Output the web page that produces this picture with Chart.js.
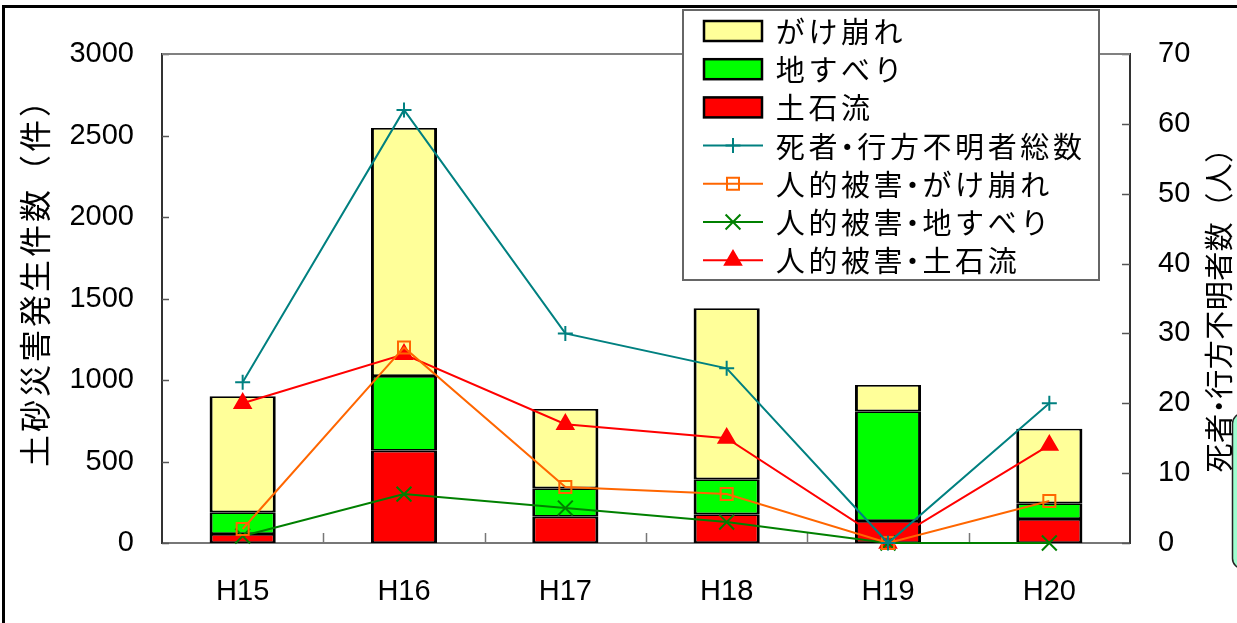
<!DOCTYPE html>
<html>
<head>
<meta charset="utf-8">
<script src="https://cdn.jsdelivr.net/npm/chart.js@4/dist/chart.umd.min.js"></script>
<style>
  html, body { margin: 0; padding: 0; background: #fff; }
  #wrap { width: 1237px; height: 623px; position: relative; }
</style>
</head>
<body>
<div id="wrap"><canvas id="c" width="1237" height="623"></canvas></div>
<script>
// 年度
const years = ['H15', 'H16', 'H17', 'H18', 'H19', 'H20'];

// 土砂災害発生件数（件）
const debrisFlowCount   = [55, 566, 161, 176, 135, 147];      // 土石流
const landslideCount    = [133, 458, 175, 215, 673, 97];      // 地すべり
const slopeFailureCount = [712, 1522, 486, 1049, 161, 457];   // がけ崩れ

// 死者・行方不明者数（人）
const victimsTotal     = [23, 62, 30, 25, 0, 20];
const victimsSlope     = [2, 28, 8, 7, 0, 6];
const victimsLandslide = [1, 7, 5, 3, 0, 0];
const victimsDebris    = [20, 27, 17, 15, 0, 14];

// 軸の目盛
const countAxis  = { min: 0, max: 3000, step: 500 };
const personAxis = { min: 0, max: 70, step: 10 };

// 文字列
const leftTitle  = '土砂災害発生件数（件）';
const rightTitle = '死者・行方不明者数（人）';

const JP = "'Noto Sans CJK JP', 'Noto Sans', sans-serif";
const NUM = "'Liberation Sans', Arial, sans-serif";

// 凡例の並び順（データセットの添字）
const legendOrder = [2, 1, 0, 3, 4, 5, 6];

function barSet(label, data, color) {
  return {
    type: 'bar', label, data, yAxisID: 'y', stack: 'count',
    backgroundColor: color, borderColor: '#000',
    borderWidth: { top: 1.75, bottom: 1.75, left: 3, right: 3 },
    borderSkipped: false, barPercentage: 0.41, categoryPercentage: 1, order: 2
  };
}
function lineSet(label, data, color, style, radius, fillPoint) {
  return {
    type: 'line', label, data, yAxisID: 'y1',
    borderColor: color, borderWidth: 2, tension: 0, fill: false, clip: false,
    pointStyle: style, pointRadius: radius, pointHoverRadius: radius,
    pointBorderColor: color, pointBorderWidth: 2,
    pointBackgroundColor: fillPoint ? color : 'rgba(0,0,0,0)', order: 1
  };
}

const datasets = [
  barSet('土石流', debrisFlowCount, '#ff0000'),
  barSet('地すべり', landslideCount, '#00ff00'),
  barSet('がけ崩れ', slopeFailureCount, '#ffff99'),
  lineSet('死者・行方不明者総数', victimsTotal, '#008080', 'cross', 7.5, false),
  lineSet('人的被害・がけ崩れ', victimsSlope, '#ff6600', 'rect', 8.5, false),
  lineSet('人的被害・地すべり', victimsLandslide, '#008000', 'crossRot', 10.5, false),
  lineSet('人的被害・土石流', victimsDebris, '#ff0000', 'triangle', 9.3, true)
];

function drawMarker(ctx, ds, x, y) {
  ctx.save();
  ctx.strokeStyle = ds.pointBorderColor;
  ctx.fillStyle = ds.pointBackgroundColor;
  ctx.lineWidth = ds.pointBorderWidth;
  Chart.helpers.drawPoint(ctx, {
    pointStyle: ds.pointStyle, radius: ds.pointRadius,
    borderWidth: ds.pointBorderWidth, rotation: 0
  }, x, y);
  ctx.restore();
}

// 等幅送りで1文字ずつ描く（中黒は半角幅）
function cellWidth(ch, adv) { return ch === '・' ? adv * 0.5 : adv; }
function textRunWidth(text, adv) {
  let w = 0;
  for (const ch of text) w += cellWidth(ch, adv);
  return w;
}
function fillCells(ctx, text, x, y, adv) {
  ctx.textAlign = 'center';
  let cx = x;
  for (const ch of text) {
    const w = cellWidth(ch, adv);
    ctx.fillText(ch, cx + w / 2, y);
    cx += w;
  }
}

// 枠・内向き目盛・凡例・軸タイトル
const decorations = {
  id: 'decorations',
  beforeDatasetsDraw(chart) {
    const { ctx, chartArea: a, scales } = chart;
    ctx.save();
    // 内向きの目盛線
    ctx.strokeStyle = '#555';
    ctx.lineWidth = 1.5;
    scales.y.ticks.forEach(t => {
      const p = Math.round(scales.y.getPixelForValue(t.value)) + 0.5;
      ctx.beginPath(); ctx.moveTo(a.left, p); ctx.lineTo(a.left + 7, p); ctx.stroke();
    });
    scales.y1.ticks.forEach(t => {
      const p = Math.round(scales.y1.getPixelForValue(t.value)) + 0.5;
      ctx.beginPath(); ctx.moveTo(a.right, p); ctx.lineTo(a.right - 8, p); ctx.stroke();
    });
    ctx.strokeStyle = '#777';
    for (let i = 1; i < years.length; i++) {
      const p = Math.round((scales.x.getPixelForValue(i - 1) + scales.x.getPixelForValue(i)) / 2) + 0.5;
      ctx.beginPath(); ctx.moveTo(p, a.bottom); ctx.lineTo(p, a.bottom - 10); ctx.stroke();
    }
    // プロット領域の上辺
    ctx.strokeStyle = '#808080';
    ctx.lineWidth = 2;
    ctx.beginPath(); ctx.moveTo(a.left, a.top); ctx.lineTo(a.right, a.top); ctx.stroke();
    ctx.restore();
  },
  afterDraw(chart) {
    const { ctx } = chart;
    ctx.save();

    // 外枠
    ctx.fillStyle = '#000';
    ctx.fillRect(2, 5, 1237, 3);
    ctx.fillRect(2, 5, 3, 623);

    // 右端の吹き出し枠
    ctx.fillStyle = '#9fffd0';
    ctx.strokeStyle = '#222';
    ctx.lineWidth = 1.5;
    ctx.beginPath();
    ctx.roundRect(1232.5, 413.5, 40, 155, 10);
    ctx.fill(); ctx.stroke();

    // 凡例
    const lx = 683, ly = 10, lw = 416, lh = 270;
    ctx.fillStyle = '#fff';
    ctx.fillRect(lx, ly, lw, lh);
    ctx.strokeStyle = '#666';
    ctx.lineWidth = 2;
    ctx.strokeRect(lx, ly, lw, lh);

    ctx.font = '29px ' + JP;
    ctx.textBaseline = 'middle';
    legendOrder.forEach((di, row) => {
      const ds = chart.data.datasets[di];
      const cy = 31 + row * 38.2;
      if (ds.type === 'bar') {
        ctx.fillStyle = ds.backgroundColor;
        ctx.fillRect(704, cy - 10, 58, 20);
        ctx.strokeStyle = '#000';
        ctx.lineWidth = 2.5;
        ctx.strokeRect(704, cy - 10, 58, 20);
      } else {
        ctx.strokeStyle = ds.borderColor;
        ctx.lineWidth = 2;
        ctx.beginPath(); ctx.moveTo(703, cy); ctx.lineTo(763, cy); ctx.stroke();
        drawMarker(ctx, ds, 733, cy);
      }
      ctx.fillStyle = '#000';
      fillCells(ctx, ds.label, 774, cy + 1, 32.6);
    });

    // 軸タイトル
    ctx.fillStyle = '#000';
    ctx.textBaseline = 'middle';
    ctx.save();
    ctx.translate(35, 276);
    ctx.rotate(-Math.PI / 2);
    ctx.font = '32px ' + JP;
    fillCells(ctx, leftTitle, -textRunWidth(leftTitle, 35) / 2, 0, 35);
    ctx.restore();

    ctx.save();
    ctx.translate(1219, 303);
    ctx.rotate(-Math.PI / 2);
    ctx.font = '29px ' + JP;
    fillCells(ctx, rightTitle, -textRunWidth(rightTitle, 29.5) / 2, 0, 29.5);
    ctx.restore();

    ctx.restore();
  }
};

new Chart(document.getElementById('c'), {
  data: { labels: years, datasets },
  options: {
    responsive: false,
    animation: false,
    events: [],
    layout: { padding: { top: 54, left: 0, right: 0, bottom: 0 } },
    plugins: { legend: { display: false }, tooltip: { enabled: false }, title: { display: false } },
    scales: {
      x: {
        stacked: true,
        grid: { display: false, drawTicks: false },
        border: { color: '#777', width: 2 },
        ticks: { color: '#000', font: { family: NUM, size: 29 }, padding: 32, maxRotation: 0, autoSkip: false },
        afterFit: s => { s.height = 80; }
      },
      y: {
        position: 'left', stacked: true,
        min: countAxis.min, max: countAxis.max,
        grid: { display: false, drawTicks: false },
        border: { color: '#333', width: 2 },
        ticks: {
          stepSize: countAxis.step, color: '#000', font: { family: NUM, size: 29 }, padding: 28,
          callback: v => String(v)
        },
        afterFit: s => { s.width = 162; }
      },
      y1: {
        position: 'right', stacked: false,
        min: personAxis.min, max: personAxis.max,
        grid: { display: false, drawTicks: false },
        border: { color: '#333', width: 2 },
        ticks: {
          stepSize: personAxis.step, color: '#000', font: { family: NUM, size: 29 }, padding: 28,
          callback: v => String(v)
        },
        afterFit: s => { s.width = 107; }
      }
    }
  },
  plugins: [decorations]
});
</script>
</body>
</html>
